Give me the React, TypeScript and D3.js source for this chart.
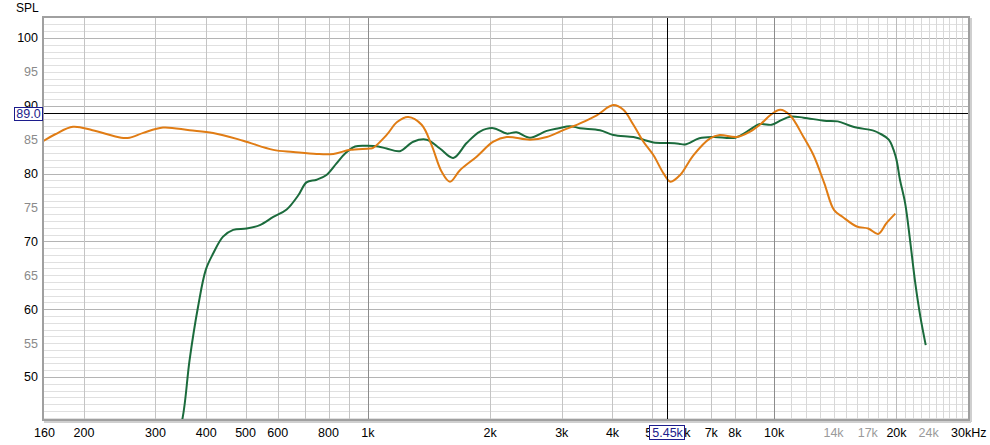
import React, { useEffect, useRef } from 'react';
import * as d3 from 'd3';

// frequency response (Hz, dB SPL)
const greenFreq = [330, 350, 364, 382, 399, 416, 440, 466, 503, 542, 585, 631, 674, 706, 748, 791, 837, 880, 930, 1000, 1060, 1112, 1199, 1293, 1395, 1504, 1622, 1750, 1887, 2036, 2196, 2322, 2506, 2756, 2950, 3143, 3327, 3727, 4019, 4503, 4770, 5046, 5500, 5824, 6034, 6545, 7086, 8027, 8571, 9229, 9854, 10349, 10939, 11809, 13283, 14343, 15654, 17624, 18219, 19146, 19915, 20400, 21012, 21600, 22256, 22899, 23610];
const greenSpl = [38, 44, 52.5, 60.4, 65.8, 68.2, 70.7, 71.7, 71.9, 72.4, 73.6, 74.7, 76.8, 78.7, 79.1, 79.8, 81.5, 83.0, 84.0, 84.1, 84.0, 83.7, 83.3, 84.7, 85.0, 83.7, 82.3, 84.5, 86.2, 86.7, 85.9, 86.1, 85.3, 86.3, 86.7, 87.0, 86.7, 86.4, 85.7, 85.4, 85.0, 84.6, 84.5, 84.4, 84.3, 85.2, 85.4, 85.3, 86.2, 87.3, 87.2, 87.8, 88.4, 88.25, 87.8, 87.7, 86.9, 86.3, 85.9, 85.0, 82.5, 79.1, 75.6, 70.2, 63.8, 58.9, 54.7];

const orangeFreq = [158, 170, 188, 210, 247, 259, 280, 313, 364, 416, 493, 585, 655, 748, 822, 903, 1011, 1030, 1112, 1180, 1257, 1356, 1435, 1518, 1592, 1685, 1852, 2036, 2196, 2506, 2756, 3027, 3327, 3659, 4019, 4254, 4503, 4767, 5046, 5345, 5556, 5870, 6326, 6957, 7345, 8085, 8727, 9300, 9778, 10349, 10939, 11809, 12500, 13283, 14047, 14750, 15970, 17045, 18034, 18900, 19870];
const orangeSpl = [84.7, 85.8, 86.9, 86.4, 85.3, 85.3, 86.0, 86.8, 86.4, 86.0, 84.85, 83.5, 83.2, 82.9, 82.9, 83.5, 83.7, 83.8, 85.7, 87.6, 88.35, 87.2, 84.2, 80.3, 78.8, 80.5, 82.5, 84.7, 85.4, 85.0, 85.4, 86.4, 87.4, 88.6, 90.1, 89.4, 87.2, 84.7, 82.7, 80.0, 78.8, 79.8, 82.7, 85.2, 85.7, 85.4, 86.2, 87.4, 88.6, 89.4, 88.6, 85.4, 82.7, 78.6, 74.6, 73.6, 72.2, 71.9, 71.1, 72.7, 74.1];

const xTickValues = [160, 200, 300, 400, 500, 600, 800, 1000, 2000, 3000, 4000, 5000, 6000, 7000, 8000, 10000, 14000, 17000, 20000, 24000, 30000];
const xTickLabels = ['160', '200', '300', '400', '500', '600', '800', '1k', '2k', '3k', '4k', '5k', '6k', '7k', '8k', '10k', '14k', '17k', '20k', '24k', '30kHz'];
const xTickGray = [14000, 17000, 24000];
const yTickValues = [100, 95, 90, 85, 80, 75, 70, 65, 60, 55, 50];

const cursorFreq = 5450;
const cursorSpl = 89.0;

const W = 990;
const H = 445;

export default function App() {
  const svgRef = useRef<SVGSVGElement>(null);

  useEffect(() => {
    if (!svgRef.current) return;
    const svg = d3.select(svgRef.current);
    svg.selectAll('*').remove();

    const left = 44, right = 968, top = 18, bottom = 419;
    const x = d3.scaleLog().domain([159.5, 30000]).range([left, right]);
    const y = d3.scaleLinear().domain([43.8, 102.95]).range([bottom, top]);
    const font = '"Liberation Sans", Arial, sans-serif';

    svg.append('rect').attr('width', W).attr('height', H).attr('fill', '#fff');

    svg.append('defs').append('clipPath').attr('id', 'plotclip')
      .append('rect').attr('x', left).attr('y', top).attr('width', right - left).attr('height', bottom - top);

    const grid = svg.append('g').attr('shape-rendering', 'crispEdges');

    // horizontal grid, every dB
    d3.range(44, 103).forEach(v => {
      grid.append('line')
        .attr('x1', left).attr('x2', right)
        .attr('y1', Math.round(y(v)) + 0.5).attr('y2', Math.round(y(v)) + 0.5)
        .attr('stroke', v % 10 === 0 ? '#b4b4b4' : '#e0e0e0');
    });

    // vertical grid
    const xGrid = [
      ...d3.range(200, 1000, 100),
      ...d3.range(1000, 10000, 1000),
      ...d3.range(10000, 30001, 1000),
    ];
    xGrid.forEach(f => {
      let c = '#c4c4c4';
      if (f === 1000 || f === 10000) c = '#8c8c8c';
      else if (f > 10000) c = f === 20000 ? '#bcbcbc' : '#d8d8d8';
      grid.append('line')
        .attr('x1', Math.round(x(f)) + 0.5).attr('x2', Math.round(x(f)) + 0.5)
        .attr('y1', top).attr('y2', bottom)
        .attr('stroke', c);
    });

    // curves
    const line = d3.line<[number, number]>()
      .x(d => x(d[0]))
      .y(d => y(d[1]))
      .curve(d3.curveCatmullRom.alpha(0.5));

    const curves = svg.append('g').attr('clip-path', 'url(#plotclip)');
    curves.append('path')
      .attr('d', line(greenFreq.map((f, i) => [f, greenSpl[i]] as [number, number])))
      .attr('fill', 'none').attr('stroke', '#1b6b3c').attr('stroke-width', 2);
    curves.append('path')
      .attr('d', line(orangeFreq.map((f, i) => [f, orangeSpl[i]] as [number, number])))
      .attr('fill', 'none').attr('stroke', '#e07c14').attr('stroke-width', 2);

    // frame
    const frame = svg.append('g').attr('shape-rendering', 'crispEdges').attr('fill', 'none');
    frame.append('rect')
      .attr('x', left - 1).attr('y', top - 1)
      .attr('width', right - left + 2).attr('height', bottom - top + 2)
      .attr('stroke', '#a0a0a0').attr('stroke-width', 2);
    frame.append('line').attr('x1', right + 2.5).attr('x2', right + 2.5).attr('y1', top).attr('y2', bottom + 3)
      .attr('stroke', '#cfcfcf').attr('stroke-width', 2);
    frame.append('line').attr('x1', left).attr('x2', right + 3).attr('y1', bottom + 2.5).attr('y2', bottom + 2.5)
      .attr('stroke', '#cfcfcf').attr('stroke-width', 2);

    // cursor lines
    svg.append('line')
      .attr('x1', Math.round(x(cursorFreq)) + 0.5).attr('x2', Math.round(x(cursorFreq)) + 0.5)
      .attr('y1', top).attr('y2', bottom)
      .attr('stroke', '#000').attr('shape-rendering', 'crispEdges');
    svg.append('line')
      .attr('x1', left).attr('x2', right)
      .attr('y1', Math.round(y(cursorSpl)) + 0.5).attr('y2', Math.round(y(cursorSpl)) + 0.5)
      .attr('stroke', '#000').attr('shape-rendering', 'crispEdges');

    // y labels
    svg.append('text').attr('x', 16).attr('y', 12)
      .style('font-family', font).style('font-size', '12px').attr('fill', '#000').text('SPL');
    yTickValues.forEach(v => {
      svg.append('text')
        .attr('x', 38).attr('y', y(v)).attr('dy', '0.36em')
        .attr('text-anchor', 'end')
        .style('font-family', font).style('font-size', '12.5px')
        .attr('fill', v % 10 === 0 ? '#000' : '#8a8a8a')
        .text(String(v));
    });

    // x labels
    xTickValues.forEach((f, i) => {
      const lab = xTickLabels[i];
      const isLast = i === xTickValues.length - 1;
      svg.append('text')
        .attr('x', isLast ? x(f) - 17 : x(f)).attr('y', 437)
        .attr('text-anchor', isLast ? 'start' : 'middle')
        .style('font-family', font).style('font-size', '12.5px')
        .attr('fill', xTickGray.includes(f) ? '#9a9a9a' : '#000')
        .text(lab);
    });

    // cursor readouts
    const navy = '#1c1c8c';
    const yc = Math.round(y(cursorSpl)) + 0.5;
    svg.append('rect').attr('x', 14.5).attr('y', yc - 6).attr('width', 28).attr('height', 13)
      .attr('fill', '#fff').attr('stroke', navy).attr('shape-rendering', 'crispEdges');
    svg.append('text').attr('x', 28.5).attr('y', yc).attr('dy', '0.36em').attr('text-anchor', 'middle')
      .style('font-family', font).style('font-size', '12.5px').attr('fill', navy).text(cursorSpl.toFixed(1));

    const xc = x(cursorFreq);
    svg.append('rect').attr('x', Math.round(xc) - 17.5).attr('y', 425.5).attr('width', 35).attr('height', 14)
      .attr('fill', '#fff').attr('stroke', navy).attr('shape-rendering', 'crispEdges');
    svg.append('text').attr('x', xc + 0.5).attr('y', 437).attr('text-anchor', 'middle')
      .style('font-family', font).style('font-size', '12.5px').attr('fill', navy).text('5.45k');
  }, []);

  return (
    <svg
      ref={svgRef}
      width={W}
      height={H}
      style={{ position: 'absolute', left: 0, top: 0, display: 'block' }}
    />
  );
}
